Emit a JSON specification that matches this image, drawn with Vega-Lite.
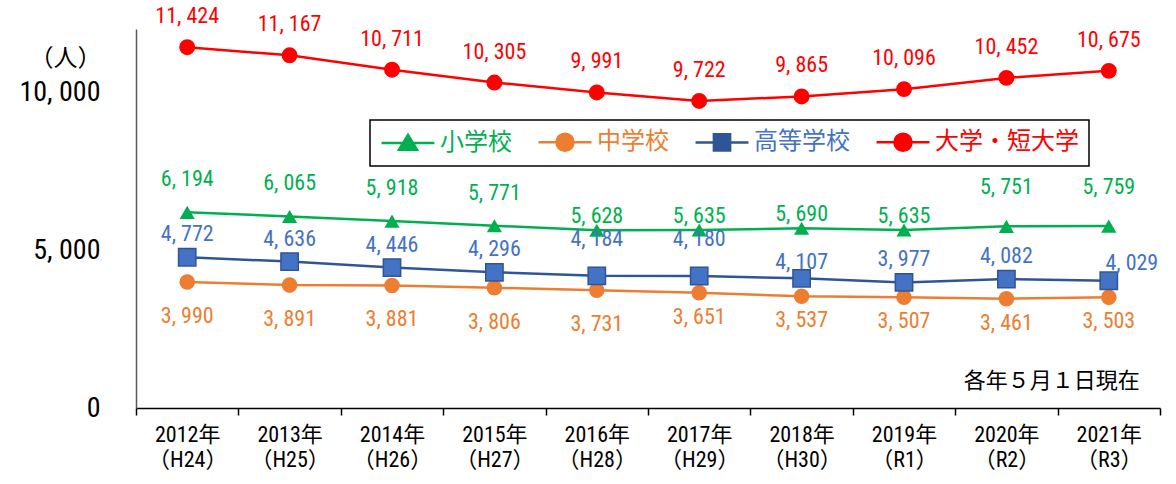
{
  "$schema": "https://vega.github.io/schema/vega-lite/v6.json",
  "width": 1024,
  "height": 379,
  "autosize": {"type": "none"},
  "padding": {"left": 136, "top": 29, "right": 16, "bottom": 76},
  "background": "white",
  "config": {
    "view": {"stroke": null},
    "font": "Roboto Condensed, DejaVu Sans Condensed, Noto Sans CJK JP",
    "locale": {"number": {"decimal": ".", "thousands": ", ", "grouping": [3], "currency": ["", ""]}}
  },
  "data": {"values": [
    {"year": "2012年|（H24）", "series": "小学校", "value": 6194},
    {"year": "2013年|（H25）", "series": "小学校", "value": 6065},
    {"year": "2014年|（H26）", "series": "小学校", "value": 5918},
    {"year": "2015年|（H27）", "series": "小学校", "value": 5771},
    {"year": "2016年|（H28）", "series": "小学校", "value": 5628},
    {"year": "2017年|（H29）", "series": "小学校", "value": 5635},
    {"year": "2018年|（H30）", "series": "小学校", "value": 5690},
    {"year": "2019年|（R1）", "series": "小学校", "value": 5635},
    {"year": "2020年|（R2）", "series": "小学校", "value": 5751},
    {"year": "2021年|（R3）", "series": "小学校", "value": 5759},
    {"year": "2012年|（H24）", "series": "中学校", "value": 3990},
    {"year": "2013年|（H25）", "series": "中学校", "value": 3891},
    {"year": "2014年|（H26）", "series": "中学校", "value": 3881},
    {"year": "2015年|（H27）", "series": "中学校", "value": 3806},
    {"year": "2016年|（H28）", "series": "中学校", "value": 3731},
    {"year": "2017年|（H29）", "series": "中学校", "value": 3651},
    {"year": "2018年|（H30）", "series": "中学校", "value": 3537},
    {"year": "2019年|（R1）", "series": "中学校", "value": 3507},
    {"year": "2020年|（R2）", "series": "中学校", "value": 3461},
    {"year": "2021年|（R3）", "series": "中学校", "value": 3503},
    {"year": "2012年|（H24）", "series": "高等学校", "value": 4772},
    {"year": "2013年|（H25）", "series": "高等学校", "value": 4636},
    {"year": "2014年|（H26）", "series": "高等学校", "value": 4446},
    {"year": "2015年|（H27）", "series": "高等学校", "value": 4296},
    {"year": "2016年|（H28）", "series": "高等学校", "value": 4184},
    {"year": "2017年|（H29）", "series": "高等学校", "value": 4180},
    {"year": "2018年|（H30）", "series": "高等学校", "value": 4107},
    {"year": "2019年|（R1）", "series": "高等学校", "value": 3977},
    {"year": "2020年|（R2）", "series": "高等学校", "value": 4082},
    {"year": "2021年|（R3）", "series": "高等学校", "value": 4029},
    {"year": "2012年|（H24）", "series": "大学・短大学", "value": 11424},
    {"year": "2013年|（H25）", "series": "大学・短大学", "value": 11167},
    {"year": "2014年|（H26）", "series": "大学・短大学", "value": 10711},
    {"year": "2015年|（H27）", "series": "大学・短大学", "value": 10305},
    {"year": "2016年|（H28）", "series": "大学・短大学", "value": 9991},
    {"year": "2017年|（H29）", "series": "大学・短大学", "value": 9722},
    {"year": "2018年|（H30）", "series": "大学・短大学", "value": 9865},
    {"year": "2019年|（R1）", "series": "大学・短大学", "value": 10096},
    {"year": "2020年|（R2）", "series": "大学・短大学", "value": 10452},
    {"year": "2021年|（R3）", "series": "大学・短大学", "value": 10675}
  ]},
  "encoding": {
    "x": {
      "field": "year", "type": "nominal", "sort": null, "bandPosition": 0.5,
      "scale": {"type": "band", "paddingInner": 0, "paddingOuter": 0},
      "axis": {
        "title": null, "labelExpr": "split(datum.label, '|')", "labelAngle": 0,
        "labelFontSize": 22, "labelLineHeight": 25, "labelPadding": 9, "labelColor": "#000",
        "tickBand": "extent", "tickSize": 7, "tickColor": "#000", "tickWidth": 1.5,
        "domainColor": "#000", "domainWidth": 1.5
      }
    },
    "y": {
      "field": "value", "type": "quantitative",
      "scale": {"domain": [0, 12000]},
      "axis": {
        "values": [0, 5000, 10000], "ticks": false, "grid": false,
        "domainColor": "#595959", "domainWidth": 1.5,
        "labelFontSize": 28, "labelColor": "#000", "labelPadding": 36,
        "title": "（人）", "titleAngle": 0, "titleX": -71, "titleY": 29,
        "titleAlign": "center", "titleBaseline": "middle", "titleFontSize": 24,
        "titleFontWeight": "normal", "titleColor": "#000", "titleFont": "Noto Sans CJK JP"
      }
    }
  },
  "layer": [
    {
      "mark": {"type": "line", "strokeWidth": 2.5},
      "encoding": {
        "color": {
          "field": "series", "type": "nominal",
          "scale": {"domain": ["小学校", "中学校", "高等学校", "大学・短大学"], "range": ["#00B050", "#ED7D31", "#2F5597", "#FF0000"]},
          "legend": {
            "title": null, "orient": "none", "legendX": 234, "legendY": 91,
            "direction": "horizontal", "columns": 4,
            "fillColor": "white", "strokeColor": "#000", "padding": 10,
            "symbolSize": 324, "symbolOffset": 16, "labelOffset": 20,
            "labelFontSize": 24, "labelFont": "Noto Sans CJK JP", "columnPadding": 21,
            "symbolStrokeWidth": 2.5,
            "encode": {
              "legend": {"update": {"strokeWidth": {"value": 1.5}}},
              "labels": {"update": {"fill": {"signal": "datum.value=='小学校' ? '#00B050' : datum.value=='中学校' ? '#ED7D31' : datum.value=='高等学校' ? '#4472C4' : '#FF0000'"}}},
              "symbols": {"update": {
                "shape": {"signal": "datum.value=='小学校' ? 'M-2.94,0H2.94M0,-0.9L1,0.75H-1Z' : datum.value=='高等学校' ? 'M-2.94,0H-0.9M0.9,0H2.94M-0.9,-0.9H0.9V0.9H-0.9Z' : 'M-2.94,0H2.94M0.95,0A0.95,0.95 0 1,1 -0.95,0A0.95,0.95 0 1,1 0.95,0Z'"},
                "fill": {"signal": "datum.value=='小学校' ? '#00B050' : datum.value=='中学校' ? '#ED7D31' : datum.value=='高等学校' ? '#4472C4' : '#FF0000'"},
                "stroke": {"signal": "datum.value=='小学校' ? '#00B050' : datum.value=='中学校' ? '#ED7D31' : datum.value=='高等学校' ? '#2F5597' : '#FF0000'"},
                "fillOpacity": {"value": 1},
                "strokeOpacity": {"value": 1},
                "opacity": {"value": 1},
                "strokeWidth": {"value": 2.5}
              }}
            }
          }
        }
      }
    },
    {
      "transform": [{"filter": "datum.series != '高等学校'"}],
      "mark": {"type": "point", "filled": true, "opacity": 1},
      "encoding": {
        "color": {"field": "series", "type": "nominal"},
        "shape": {"field": "series", "type": "nominal", "scale": {"domain": ["小学校", "中学校", "大学・短大学"], "range": ["triangle-up", "circle", "circle"]}, "legend": null},
        "size": {"field": "series", "type": "ordinal", "scale": {"domain": ["小学校", "中学校", "大学・短大学"], "range": [230, 254, 314]}, "legend": null}
      }
    },
    {
      "transform": [{"filter": "datum.series == '高等学校'"}],
      "mark": {"type": "point", "shape": "square", "filled": true, "opacity": 1, "fill": "#4472C4", "stroke": "#2F5597", "strokeWidth": 1.5, "size": 300}
    },
    {
      "transform": [{"filter": "datum.series == '大学・短大学'"}],
      "mark": {"type": "text", "dy": -31, "fontSize": 22, "color": "#FF0000"},
      "encoding": {"text": {"field": "value", "type": "quantitative", "format": ","}}
    },
    {
      "transform": [{"filter": "datum.series == '小学校' && datum.year < '2016'"}],
      "mark": {"type": "text", "dy": -33, "fontSize": 22, "color": "#00B050"},
      "encoding": {"text": {"field": "value", "type": "quantitative", "format": ","}}
    },
    {
      "transform": [{"filter": "datum.series == '小学校' && datum.year > '2016' && datum.year < '2020'"}],
      "mark": {"type": "text", "dy": -14, "fontSize": 22, "color": "#00B050"},
      "encoding": {"text": {"field": "value", "type": "quantitative", "format": ","}}
    },
    {
      "transform": [{"filter": "datum.series == '小学校' && datum.year > '2020'"}],
      "mark": {"type": "text", "dy": -39, "fontSize": 22, "color": "#00B050"},
      "encoding": {"text": {"field": "value", "type": "quantitative", "format": ","}}
    },
    {
      "transform": [{"filter": "datum.series == '中学校' && datum.year < '2017'"}],
      "mark": {"type": "text", "dy": 34, "fontSize": 22, "color": "#ED7D31"},
      "encoding": {"text": {"field": "value", "type": "quantitative", "format": ","}}
    },
    {
      "transform": [{"filter": "datum.series == '中学校' && datum.year > '2017'"}],
      "mark": {"type": "text", "dy": 24, "fontSize": 22, "color": "#ED7D31"},
      "encoding": {"text": {"field": "value", "type": "quantitative", "format": ","}}
    },
    {
      "transform": [{"filter": "datum.series == '高等学校' && (datum.year < '2016' || (datum.year > '2019' && datum.year < '2021'))"}],
      "mark": {"type": "text", "dy": -23, "fontSize": 22, "color": "#4472C4"},
      "encoding": {"text": {"field": "value", "type": "quantitative", "format": ","}}
    },
    {
      "transform": [{"filter": "datum.series == '高等学校' && datum.year > '2016' && datum.year < '2018'"}],
      "mark": {"type": "text", "dy": -37, "fontSize": 22, "color": "#4472C4"},
      "encoding": {"text": {"field": "value", "type": "quantitative", "format": ","}}
    },
    {
      "transform": [{"filter": "datum.series == '高等学校' && datum.year > '2018' && datum.year < '2019'"}],
      "mark": {"type": "text", "dy": -16, "fontSize": 22, "color": "#4472C4"},
      "encoding": {"text": {"field": "value", "type": "quantitative", "format": ","}}
    },
    {
      "transform": [{"filter": "datum.series == '高等学校' && datum.year > '2021'"}],
      "mark": {"type": "text", "dx": 23, "dy": -18, "fontSize": 22, "color": "#4472C4"},
      "encoding": {"text": {"field": "value", "type": "quantitative", "format": ","}}
    },
    {
      "data": {"values": [{"note": "各年５月１日現在", "year": "2021年|（R3）", "value": 850}]},
      "mark": {"type": "text", "align": "right", "baseline": "middle", "dx": 31, "fontSize": 22, "font": "Noto Sans CJK JP", "color": "#000"},
      "encoding": {
        "text": {"field": "note", "type": "nominal"}
      }
    }
  ]
}
